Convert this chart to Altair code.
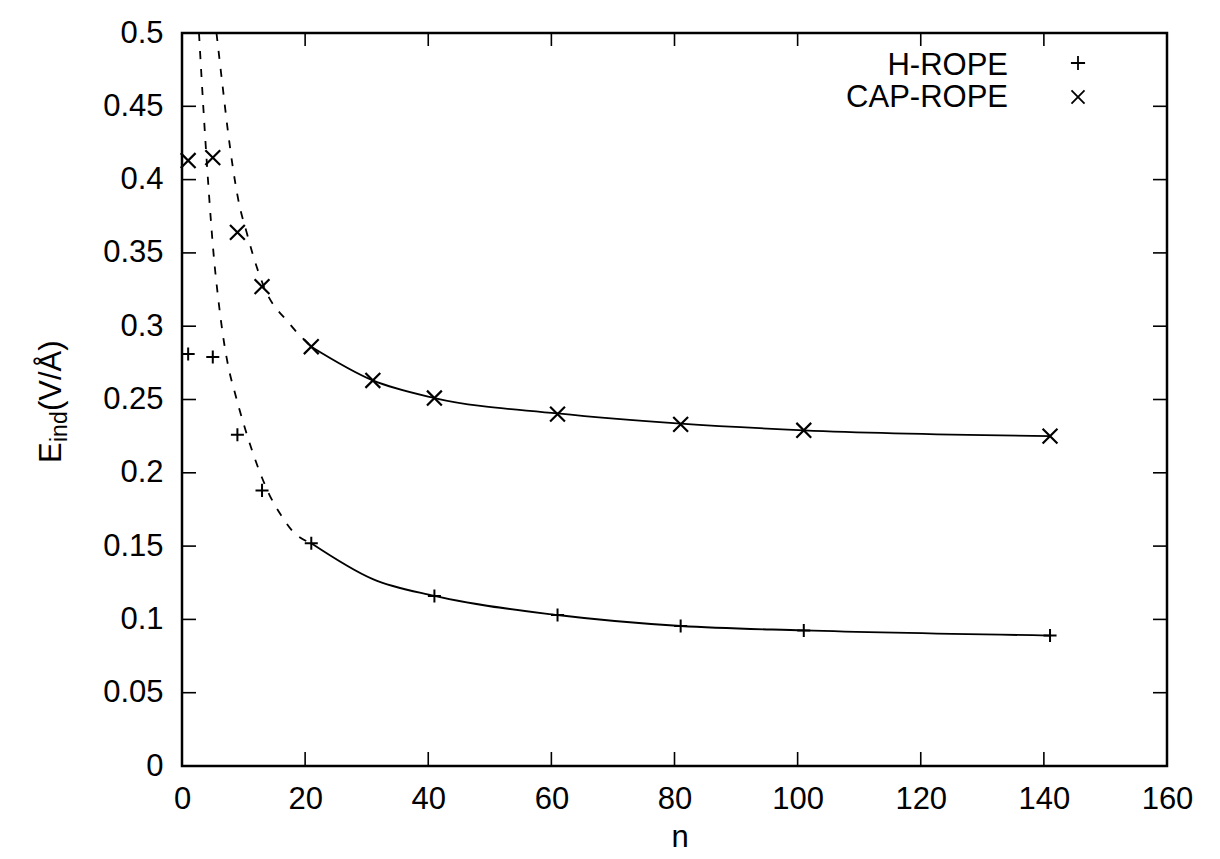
import altair as alt
import pandas as pd

# ---- data ----
n_cap = [1, 5, 9, 13, 21, 31, 41, 61, 81, 101, 141]
e_cap = [0.413, 0.415, 0.364, 0.327, 0.286, 0.263, 0.251, 0.240, 0.233, 0.229, 0.225]
n_h = [1, 5, 9, 13, 21, 41, 61, 81, 101, 141]
e_h = [0.281, 0.279, 0.226, 0.188, 0.152, 0.116, 0.103, 0.0955, 0.0925, 0.089]

# fitted curves
cap_dash_n = [5.6, 6.7, 7.4, 8.2, 9.25, 10.5, 11.5, 13.3, 17.4, 21]
cap_dash_e = [0.5, 0.46, 0.435, 0.41, 0.384, 0.364, 0.349, 0.327, 0.302, 0.286]
cap_solid_n = [21, 31, 41, 61, 81, 101, 141]
cap_solid_e = [0.286, 0.263, 0.251, 0.2405, 0.2335, 0.229, 0.225]
h_dash_n = [2.76, 3.6, 4.4, 5.2, 5.8, 6.9, 7.7, 8.5, 9.9, 11.6, 13.0, 14.2, 16.1, 18.0, 21]
h_dash_e = [0.5, 0.44, 0.389, 0.346, 0.322, 0.287, 0.269, 0.256, 0.235, 0.2125, 0.1966, 0.185, 0.171, 0.16, 0.152]
h_solid_n = [21, 31, 41, 61, 81, 101, 141]
h_solid_e = [0.152, 0.1275, 0.116, 0.103, 0.0955, 0.0925, 0.089]

x_ticks = [0, 20, 40, 60, 80, 100, 120, 140, 160]
y_ticks = [0, 0.05, 0.1, 0.15, 0.2, 0.25, 0.3, 0.35, 0.4, 0.45, 0.5]

legend_labels = ["H-ROPE", "CAP-ROPE"]
x_title = "n"
y_title_parts = ["E", "ind", "(V/Å)"]

# ---- styling ----
W, H = 985, 733
FONT = "Liberation Sans"
FS = 31
PLUS = "M-1,0L1,0M0,-1L0,1"
CROSS = "M-1,-1L1,1M-1,1L1,-1"

x_axis = alt.Axis(values=x_ticks, title=None, domain=False, ticks=False, tickSize=0, grid=False,
                  labelPadding=18, labelFontSize=FS, labelFont=FONT, labelColor="black",
                  labelFlush=False, labelOverlap=False, labelBound=False, format="d")
y_axis = alt.Axis(values=y_ticks, title=None, domain=False, ticks=False, tickSize=0, grid=False,
                  labelPadding=19, labelFontSize=FS, labelFont=FONT, labelColor="black",
                  labelFlush=False, labelOverlap=False, labelBound=False, format="~g")
xs = alt.Scale(domain=[0, 160], nice=False, zero=False)
ys = alt.Scale(domain=[0, 0.5], nice=False, zero=False)


def X():
    return alt.X("n:Q", scale=xs, axis=x_axis)


def Y():
    return alt.Y("e:Q", scale=ys, axis=y_axis)


def df(n, e):
    return pd.DataFrame({"n": n, "e": e})


layers = []

# inward ticks on all four sides
xt = pd.DataFrame({"n": x_ticks})
yt = pd.DataFrame({"e": y_ticks})
layers.append(alt.Chart(xt).mark_rule(color="black", strokeWidth=1.6).encode(
    x=X(), y=alt.value(H), y2=alt.value(H - 14)))
layers.append(alt.Chart(xt).mark_rule(color="black", strokeWidth=1.6).encode(
    x=X(), y=alt.value(0), y2=alt.value(13)))
layers.append(alt.Chart(yt).mark_rule(color="black", strokeWidth=1.6).encode(
    y=Y(), x=alt.value(0), x2=alt.value(14)))
layers.append(alt.Chart(yt).mark_rule(color="black", strokeWidth=1.6).encode(
    y=Y(), x=alt.value(W), x2=alt.value(W - 14)))

# fitted curves
for nn, ee, dash in [(h_dash_n, h_dash_e, True), (h_solid_n, h_solid_e, False),
                     (cap_dash_n, cap_dash_e, True), (cap_solid_n, cap_solid_e, False)]:
    kw = dict(color="black", strokeWidth=1.8, interpolate="monotone")
    if dash:
        kw["strokeDash"] = [8, 10]
    layers.append(alt.Chart(df(nn, ee)).mark_line(**kw).encode(x=X(), y=Y(), order="n:Q"))

# data points
layers.append(alt.Chart(df(n_h, e_h)).mark_point(shape=PLUS, size=170, filled=False, color="black",
                                                 strokeWidth=2, opacity=1).encode(x=X(), y=Y()))
layers.append(alt.Chart(df(n_cap, e_cap)).mark_point(shape=CROSS, size=220, filled=False, color="black",
                                                     strokeWidth=2.2, opacity=1).encode(x=X(), y=Y()))

# legend (text left, symbol right, like the original)
leg_y_text = [42, 74]
leg_y_sym = [30, 64]
leg_shapes = [(PLUS, 200), (CROSS, 170)]
for i, lab in enumerate(legend_labels):
    layers.append(alt.Chart(pd.DataFrame({"t": [lab]})).mark_text(
        font=FONT, fontSize=FS, color="black", align="right", baseline="alphabetic").encode(
        text="t:N", x=alt.value(826), y=alt.value(leg_y_text[i])))
    shp, sz = leg_shapes[i]
    layers.append(alt.Chart(pd.DataFrame({"t": [lab]})).mark_point(
        shape=shp, size=sz, filled=False, color="black", strokeWidth=1.8, opacity=1).encode(
        x=alt.value(896), y=alt.value(leg_y_sym[i])))

# axis titles as text
layers.append(alt.Chart(pd.DataFrame({"t": [x_title]})).mark_text(
    font=FONT, fontSize=FS, color="black", align="center", baseline="alphabetic").encode(
    text="t:N", x=alt.value(498), y=alt.value(814)))
for txt, xv, yv, fs in [(y_title_parts[0], -121, 430, FS), (y_title_parts[1], -115, 409, 23),
                        (y_title_parts[2], -121, 378, FS)]:
    layers.append(alt.Chart(pd.DataFrame({"t": [txt]})).mark_text(
        font=FONT, fontSize=fs, color="black", align="left", baseline="alphabetic", angle=270).encode(
        text="t:N", x=alt.value(xv), y=alt.value(yv)))

chart = alt.layer(*layers).properties(
    width=W, height=H,
    padding={"left": 174, "top": 25, "right": 40, "bottom": 88},
    autosize=alt.AutoSizeParams(type="none"),
    background="white",
).configure_view(stroke="black", strokeWidth=2.5)

chart.save("out.html", embed_options={"renderer": "svg", "actions": False})
